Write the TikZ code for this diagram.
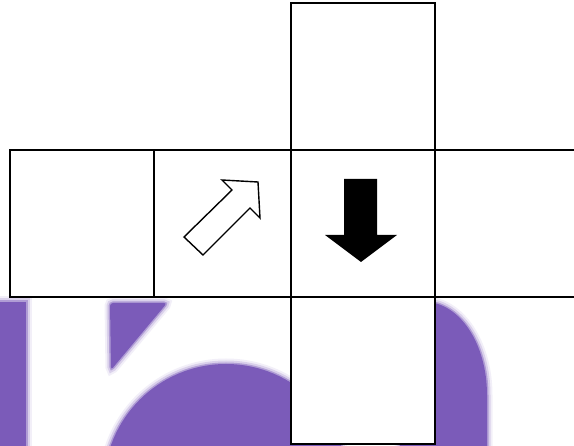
\documentclass[tikz,border=0pt]{standalone}
\definecolor{vio}{RGB}{123,91,185}
\tikzset{
  blob/.style={fill=vio, line join=round,
    preaction={draw=vio!10, line width=11pt},
    preaction={draw=vio!28, line width=7pt},
    preaction={draw=vio!60, line width=3pt}},
  cell/.style={draw=black, line width=1.8pt, fill=white, inner sep=0pt,
    outer sep=0pt, minimum width=144pt, minimum height=147pt},
  gridline/.style={draw=black, line width=1.8pt},
  hollowarrow/.style={draw=black, line width=1.4pt, fill=white, line join=miter},
  solidarrow/.style={fill=black},
}
\begin{document}
\begin{tikzpicture}[x=1pt,y=-1pt]
\useasboundingbox (0,0) rectangle (574,446);
\clip (0,0) rectangle (574,446);
% blurred purple background shapes
\path[blob] (-12,302) rectangle (26,462);
\path[blob, rounded corners=3pt] (110,303) -- (167,303) -- (111,370) -- cycle;
\path[blob] (226,486) circle[radius=122];
\path[blob] (400,302) -- (425,302) .. controls (459,302) and (487,343) .. (487,395)
  -- (487,462) -- (400,462) -- cycle;
% cells
\node[cell] (T) at (363,76.5) {};
\node[cell] (L) at (82,223.5) {};
\node[cell] (C) at (363,223.5) {};
\node[cell] (B) at (363,370.5) {};
\coordinate (RT) at (580,150);
\coordinate (RB) at (580,297);
\draw[gridline] (L.north east) -- (C.north west);
\draw[gridline] (L.south east) -- (C.south west);
\draw[gridline] (C.north east) -- (RT);
\draw[gridline] (C.south east) -- (RB);
% arrows
\draw[hollowarrow] (184,237) -- (203,255) -- (250,208) -- (260,218) -- (258,182)
  -- (222,180) -- (232,190) -- cycle;
\path[solidarrow] (344,179) -- (377,179) -- (377,235) -- (397,235) -- (361,262)
  -- (325,235) -- (344,235) -- cycle;
\end{tikzpicture}
\end{document}
